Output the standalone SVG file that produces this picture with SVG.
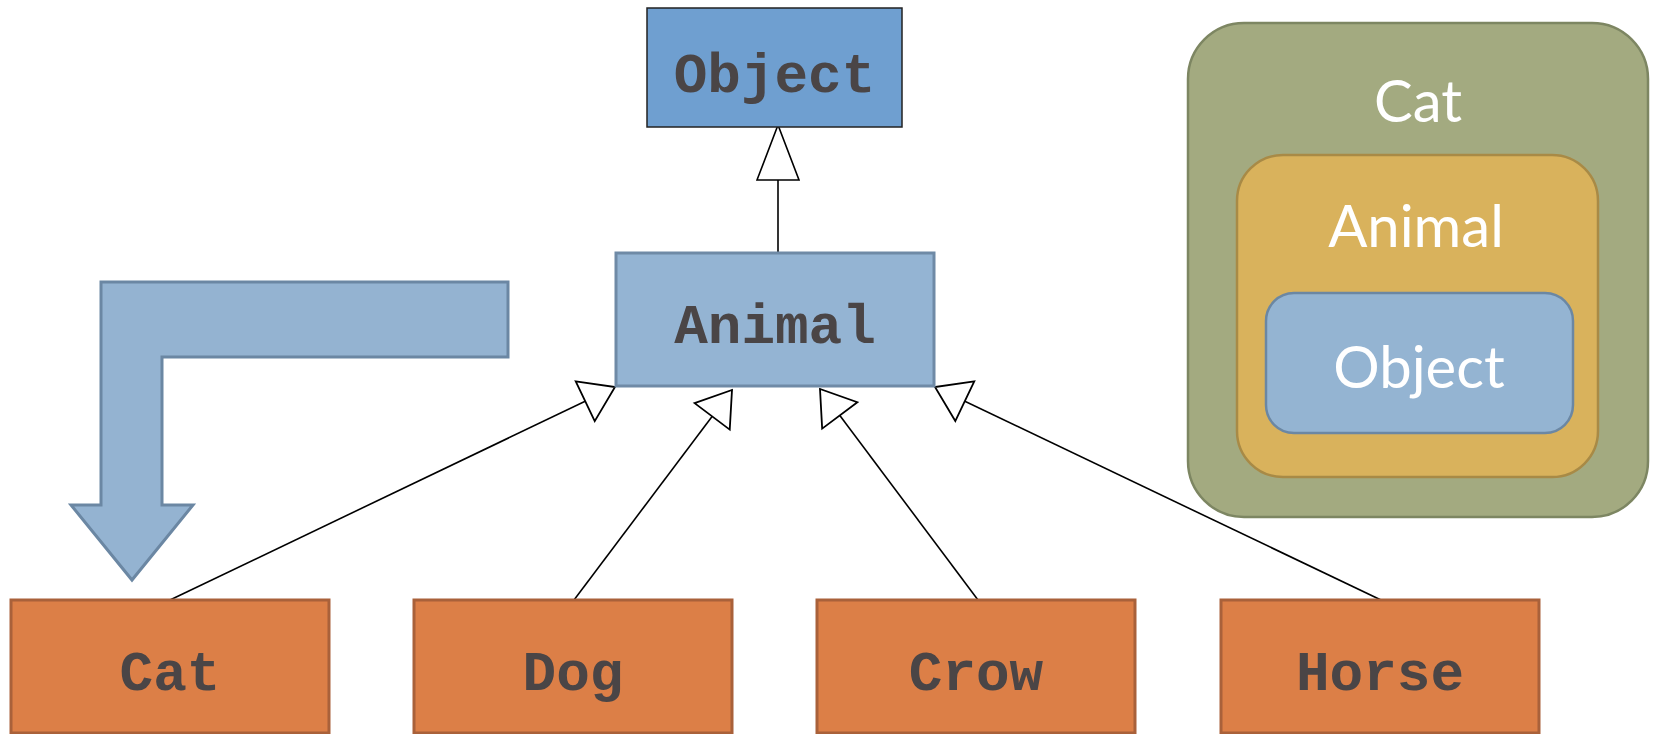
<svg xmlns="http://www.w3.org/2000/svg" width="1656" height="734" viewBox="0 0 1656 734">
<style>
.code{font-family:"Liberation Mono","Courier New",monospace;font-weight:bold;font-size:56px;fill:#4a4546;text-anchor:middle}
.child{fill:#dc7f47;stroke:#a9613a;stroke-width:3}
.conn{stroke:#000;stroke-width:1.6;fill:none;marker-end:url(#tri)}
.up{stroke:#000;stroke-width:1.6;fill:none;marker-end:url(#triLong)}
.nest{font-family:Lato,"Noto Sans",sans-serif;font-size:58px;fill:#fff;text-anchor:middle}
</style>
<defs>
<marker id="triLong" markerUnits="userSpaceOnUse" viewBox="-3 -3 62 48" markerWidth="62" markerHeight="48" refX="55" refY="21" orient="auto">
<path d="M0,0 L55,21 L0,42 Z" fill="#fff" stroke="#000" stroke-width="1.6"/>
</marker>
<marker id="tri" markerUnits="userSpaceOnUse" viewBox="-3 -3 40 50" markerWidth="40" markerHeight="50" refX="33" refY="22" orient="auto">
<path d="M0,0 L33,22 L0,44 Z" fill="#fff" stroke="#000" stroke-width="1.8"/>
</marker>
</defs>
<rect width="1656" height="734" fill="#fff"/>
<g id="connectors">
<line class="up" x1="778" y1="253" x2="778" y2="125"/>
<line class="conn" x1="170" y1="600" x2="615" y2="387"/>
<line class="conn" x1="574" y1="600" x2="732" y2="390"/>
<line class="conn" x1="978" y1="600" x2="820" y2="389"/>
<line class="conn" x1="1381" y1="600" x2="935" y2="387"/>
</g>
<g id="object">
<rect x="647" y="8" width="255" height="119" fill="#6f9fd0" stroke="#222" stroke-width="1.5"/>
<text class="code" x="774.5" y="92">Object</text>
</g>
<g id="animal">
<rect x="616" y="253" width="318" height="133" fill="#94b4d3" stroke="#6f8aa6" stroke-width="3"/>
<text class="code" x="775" y="343">Animal</text>
</g>
<g id="cat">
<rect class="child" x="11" y="600" width="318" height="133"/>
<text class="code" x="170" y="690">Cat</text>
</g>
<g id="dog">
<rect class="child" x="414" y="600" width="318" height="133"/>
<text class="code" x="573" y="690">Dog</text>
</g>
<g id="crow">
<rect class="child" x="817" y="600" width="318" height="133"/>
<text class="code" x="976" y="690">Crow</text>
</g>
<g id="horse">
<rect class="child" x="1221" y="600" width="318" height="133"/>
<text class="code" x="1380" y="690">Horse</text>
</g>
<g id="bent-arrow">
<polygon points="101,282 508,282 508,357 162,357 162,505 193,505 132,580 71,505 101,505" fill="#94b3d1" stroke="#6b87a3" stroke-width="3" stroke-linejoin="miter"/>
</g>
<g id="nesting">
<rect x="1188" y="23" width="460" height="494" rx="56" fill="#a3aa80" stroke="#7d8662" stroke-width="2.5"/>
<text class="nest" x="1418" y="122">Cat</text>
<rect x="1237" y="155" width="361" height="322" rx="46" fill="#d9b25c" stroke="#a88a46" stroke-width="2.5"/>
<text class="nest" x="1416" y="247">Animal</text>
<rect x="1266" y="293" width="307" height="140" rx="28" fill="#94b4d2" stroke="#6b87a3" stroke-width="2.5"/>
<text class="nest" x="1419" y="388">Object</text>
</g>
</svg>
